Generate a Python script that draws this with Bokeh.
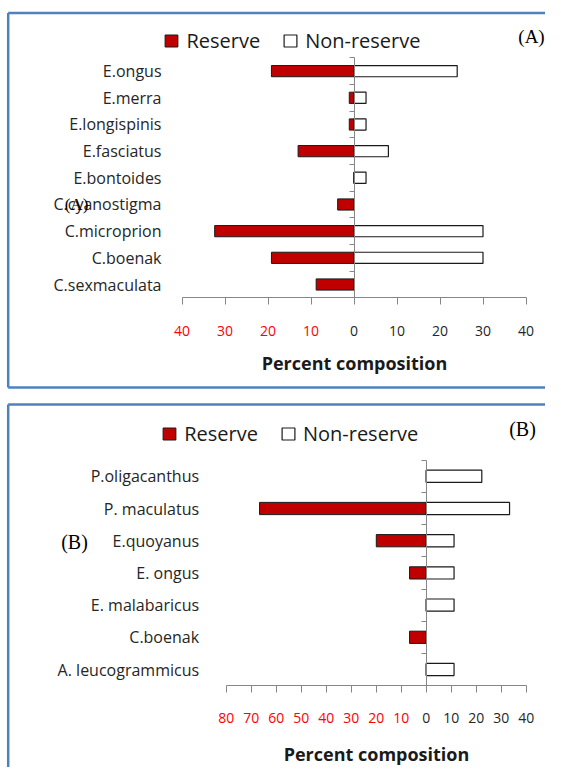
from bokeh.plotting import figure
from bokeh.models import (ColumnDataSource, LinearAxis, FixedTicker, Legend,
                          LegendItem, Label, Range1d)
from bokeh.layouts import column
from bokeh.embed import file_html
from bokeh.resources import INLINE

# ---------------- data ----------------
a_species = ["E.ongus", "E.merra", "E.longispinis", "E.fasciatus", "E.bontoides",
             "C.cyanostigma", "C.microprion", "C.boenak", "C.sexmaculata"]
a_reserve = [19.2, 1.1, 1.1, 13.0, 0.0, 3.8, 32.4, 19.2, 8.8]
a_nonreserve = [24.0, 2.8, 2.8, 8.0, 2.8, 0.0, 30.0, 30.0, 0.0]
a_ticks = [-40, -30, -20, -10, 0, 10, 20, 30, 40]

b_species = ["P.oligacanthus", "P. maculatus", "E.quoyanus", "E. ongus",
             "E. malabaricus", "C.boenak", "A. leucogrammicus"]
b_reserve = [0.0, 66.7, 20.0, 6.7, 0.0, 6.7, 0.0]
b_nonreserve = [22.2, 33.3, 11.1, 11.1, 11.1, 0.0, 11.1]
b_ticks = [-80, -70, -60, -50, -40, -30, -20, -10, 0, 10, 20, 30, 40]

series_names = ["Reserve", "Non-reserve"]
x_title = "Percent composition"

RED = "#C00000"
AXIS = "#868686"
BORDER = "#4F81BD"
TXT = "#262626"
FONT = "Open Sans"
SERIF = "Liberation Serif"
W = 545


def panel(species, reserve, nonreserve, ticks, height, px_per, zero_px, row0_px,
          row_px, label_right_px, border_top_px, border_bottom_px, bar_h, tag,
          tag_px, tag_size, stray_px, stray_size, legend_px, lab_standoff,
          title_standoff):
    n = len(species)
    xd = lambda fx: (fx - zero_px) / px_per
    yd = lambda fy: (row0_px - fy) / row_px

    p = figure(width=W, height=height,
               x_range=Range1d(xd(0), xd(W)), y_range=Range1d(yd(height), yd(0)),
               output_backend="svg", toolbar_location=None, min_border=0,
               outline_line_color=None, x_axis_type=None, y_axis_type=None,
               background_fill_color="white", border_fill_color="white")

    ys = [n - 1 - i for i in range(n)]
    src = ColumnDataSource(dict(y=ys, neg=[-v for v in reserve], pos=nonreserve,
                                zero=[0] * n))
    r1 = p.hbar(y="y", left="neg", right="zero", height=bar_h, source=src,
                fill_color=RED, line_color="#1a1a1a", line_width=1)
    r2 = p.hbar(y="y", left="zero", right="pos", height=bar_h, source=src,
                fill_color="white", line_color="#1a1a1a", line_width=1.2)

    # panel border (left, top, bottom)
    bx = xd(7.7)
    bt = yd(border_top_px)
    xr_end = xd(W + 5)
    if border_bottom_px is not None:
        bb = yd(border_bottom_px)
        seg = ([bx, bx, bx], [bt, bt, bb], [bx, xr_end, xr_end], [bb, bt, bb])
    else:
        bb = yd(height + 5)
        seg = ([bx, bx], [bt, bt], [bx, xr_end], [bb, bt])
    p.segment(*seg, line_color=BORDER, line_width=2.5)

    # x axis (line, ticks, non-negative labels)
    xa = LinearAxis(ticker=FixedTicker(ticks=ticks), bounds=(min(ticks), max(ticks)),
                    fixed_location=-0.5, axis_line_color=AXIS, axis_line_width=1,
                    major_tick_line_color=AXIS, major_tick_out=7, major_tick_in=0,
                    minor_tick_line_color=None,
                    major_label_overrides={t: (str(t) if t >= 0 else "") for t in ticks},
                    major_label_text_font=FONT, major_label_text_font_size="14px",
                    major_label_text_color=TXT, major_label_standoff=lab_standoff,
                    axis_label=x_title, axis_label_text_font=FONT,
                    axis_label_text_font_style="bold", axis_label_text_font_size="18px",
                    axis_label_text_color="#1a1a1a", axis_label_standoff=title_standoff)
    p.add_layout(xa, "below")
    neg = [t for t in ticks if t < 0]
    xr = LinearAxis(ticker=FixedTicker(ticks=neg), fixed_location=-0.5,
                    axis_line_alpha=0, major_tick_line_alpha=0, major_tick_out=7,
                    major_tick_in=0, minor_tick_line_color=None,
                    major_label_overrides={t: str(-t) for t in neg},
                    major_label_text_font=FONT, major_label_text_font_size="14px",
                    major_label_text_color="#FF0000", major_label_standoff=lab_standoff)
    p.add_layout(xr, "below")

    # vertical zero axis with boundary ticks
    bticks = [i - 0.5 for i in range(n + 1)]
    ya = LinearAxis(ticker=FixedTicker(ticks=bticks), bounds=(-0.5, n - 0.5),
                    fixed_location=0, axis_line_color=AXIS, major_tick_line_color=AXIS,
                    major_tick_out=5, major_tick_in=0, minor_tick_line_color=None,
                    major_label_overrides={t: "" for t in bticks})
    p.add_layout(ya, "left")

    # category labels
    yl = LinearAxis(ticker=FixedTicker(ticks=ys), fixed_location=xd(label_right_px),
                    axis_line_alpha=0, major_tick_line_alpha=0, major_tick_out=0,
                    major_tick_in=0, minor_tick_line_color=None, major_label_standoff=0,
                    major_label_overrides={y: s for y, s in zip(ys, species)},
                    major_label_text_font=FONT, major_label_text_font_size="16px",
                    major_label_text_color=TXT)
    p.add_layout(yl, "left")

    legend = Legend(items=[LegendItem(label=series_names[0], renderers=[r1]),
                           LegendItem(label=series_names[1], renderers=[r2])],
                    orientation="horizontal", location=legend_px,
                    label_text_font=FONT, label_text_font_size="20px",
                    label_text_color="#1a1a1a", glyph_width=16, glyph_height=15,
                    label_standoff=7, spacing=22, padding=0, margin=0,
                    border_line_color=None, background_fill_alpha=0)
    p.add_layout(legend)

    p.add_layout(Label(x=xd(tag_px[0]), y=yd(tag_px[1]), text=tag, text_font=SERIF,
                       text_font_size=tag_size, text_align="center",
                       text_baseline="middle", text_color="#000000"))
    p.add_layout(Label(x=xd(stray_px[0]), y=yd(stray_px[1]), text=tag, text_font=SERIF,
                       text_font_size=stray_size, text_align="center",
                       text_baseline="middle", text_color="#000000"))
    return p


pa = panel(a_species, a_reserve, a_nonreserve, a_ticks, height=395, px_per=4.3,
           zero_px=353.5, row0_px=284, row_px=26.67, label_right_px=161,
           border_top_px=12.5, border_bottom_px=387, bar_h=0.42, tag="(A)",
           tag_px=(531, 36), tag_size="19px", stray_px=(76, 204),
           stray_size="17px", legend_px=(163.4, 341.5), lab_standoff=21,
           title_standoff=12)

pb = panel(b_species, b_reserve, b_nonreserve, b_ticks, height=372, px_per=2.5,
           zero_px=425.8, row0_px=274, row_px=32.2, label_right_px=198.6,
           border_top_px=9, border_bottom_px=None, bar_h=0.38, tag="(B)",
           tag_px=(522, 33), tag_size="20px", stray_px=(74, 146),
           stray_size="20px", legend_px=(161.2, 320.5), lab_standoff=20,
           title_standoff=16)

layout = column(pa, pb, spacing=0)
open("out.html", "w").write(file_html(layout, INLINE))
